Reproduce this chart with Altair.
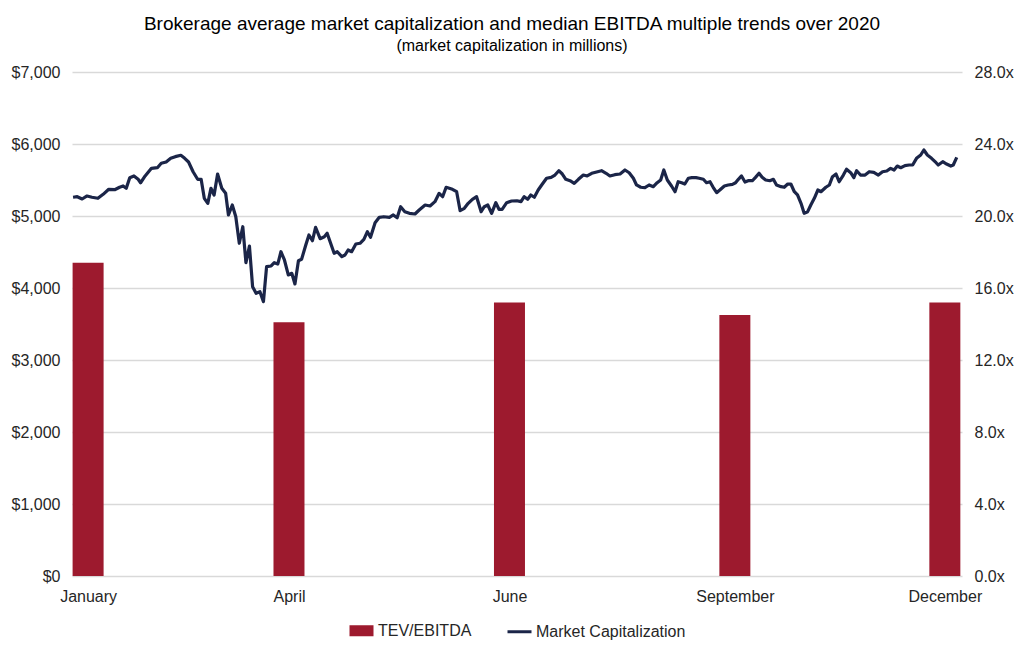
import altair as alt
import pandas as pd

# ---------------- data ----------------
# Market capitalization (millions USD), by trading-day index through 2020
line_day = [0.3, 1.5, 2.9, 4.3, 5.7, 7.4, 8.9, 10.5, 12.2, 13.6, 14.6, 15.5, 16.5, 17.7, 18.9, 19.6, 20.9,
            22.7, 24.4, 25.5, 26.9, 28.2, 29.5, 31.1, 32.2, 33.3, 34.6,
            35.9, 36.9, 37.8, 38.8, 39.7, 40.6, 41.6, 42.8, 43.9, 44.7, 45.8, 46.8, 47.8, 48.8, 49.7, 50.7,
            51.6, 52.6, 53.7, 54.7, 55.6, 56.9, 57.8, 58.8, 59.7, 60.7, 61.8, 62.8, 63.7, 64.7, 65.6, 66.8,
            67.7, 68.7, 69.6, 70.9, 72.1,
            72.9, 73.9, 74.9, 75.8, 77.1, 78.0, 78.9, 79.9, 81.1, 82.3, 83.4, 84.4, 85.3, 86.6, 87.8, 89.1,
            90.7, 91.8, 92.9, 93.9, 95.1, 96.4, 98.0, 99.2, 100.9, 102.3, 103.7, 104.9, 105.9, 106.9, 107.8,
            108.7, 109.9, 110.9, 112.1, 113.2, 114.4, 115.6, 116.9, 117.8, 118.8, 119.9, 121.1, 122.0, 122.9,
            124.2, 125.6, 127.1, 128.3, 129.2, 130.2, 131.1, 132.1, 133.2, 134.4, 135.6, 136.9, 138.0, 139.1,
            140.1, 141.1, 142.3, 143.5,
            144.7, 146.1, 147.2, 148.5, 149.9, 151.3, 152.6, 153.7, 155.1, 156.6, 158.0, 159.2, 160.4, 161.3,
            162.5, 163.7, 164.9, 166.1, 167.2, 168.2, 169.1, 170.1, 171.3, 172.3, 173.2, 174.2, 175.1, 176.1,
            177.1, 178.3, 179.2,
            180.4, 181.3, 182.3, 183.2, 184.2, 185.1, 186.4, 187.5, 188.7, 189.6, 190.4, 191.3, 192.3, 193.2,
            194.4, 195.3, 196.3, 197.2, 198.2, 199.4, 200.4, 201.3, 202.6, 203.5, 204.5, 205.4, 206.4, 207.3,
            208.3, 209.2, 210.2, 211.1, 212.1, 213.1, 214.0,
            215.4, 216.4, 217.3, 218.3, 219.2, 220.4, 221.3, 222.5, 223.4, 224.2, 225.3, 226.6, 227.8, 229.1,
            230.4, 231.6, 232.8, 233.9, 234.9, 235.8, 236.8, 238.0, 239.2, 240.2, 241.3, 242.5, 243.4, 244.4,
            245.6, 246.9, 247.5, 248.8, 249.9, 251.1, 251.8, 252.8]
line_value = [5260, 5268, 5236, 5278, 5260, 5246, 5301, 5371, 5365, 5399, 5417, 5385, 5532, 5556, 5510, 5462, 5556,
              5662, 5671, 5732, 5750, 5801, 5824, 5843, 5801, 5750, 5615,
              5510, 5510, 5246, 5176, 5385, 5292, 5583, 5385, 5315, 5014, 5153, 4990, 4621, 4851, 4351, 4583,
              4018, 3926, 3949, 3810, 4296, 4306, 4351, 4333, 4504, 4389, 4181, 4204, 4056, 4379, 4399, 4597,
              4736, 4657, 4843, 4685, 4712,
              4760, 4621, 4482, 4504, 4435, 4458, 4528, 4504, 4611, 4621, 4676, 4782, 4704, 4907, 4982, 4990,
              4982, 5014, 4976, 5129, 5060, 5037, 5028, 5083, 5153, 5139, 5199, 5315, 5268, 5399, 5385,
              5371, 5337, 5074, 5107, 5176, 5232, 5268, 5060, 5129, 5153, 5037, 5185, 5093, 5093,
              5185, 5208, 5212, 5199, 5268, 5232, 5292, 5260, 5361, 5444, 5524, 5537, 5569, 5629,
              5583, 5510, 5490, 5454,
              5510, 5569, 5556, 5593, 5611, 5629, 5593, 5556, 5574, 5583, 5639, 5601, 5524, 5431,
              5399, 5393, 5431, 5407, 5462, 5500, 5639, 5500, 5417, 5337, 5476, 5462, 5444, 5524,
              5532, 5532, 5524,
              5510, 5462, 5476, 5399, 5324, 5361, 5417, 5431, 5440, 5462, 5510, 5556, 5472, 5490,
              5490, 5537, 5593, 5537, 5500, 5490, 5510, 5431, 5407, 5399, 5444, 5444, 5337, 5292,
              5176, 5037, 5060, 5153, 5246, 5361, 5337,
              5399, 5431, 5546, 5583, 5476, 5569, 5649, 5601, 5532, 5629, 5569, 5569, 5615, 5607,
              5569, 5615, 5625, 5662, 5639, 5694, 5671, 5699, 5708, 5708, 5801, 5847, 5917, 5847,
              5801, 5740, 5708, 5754, 5722, 5694, 5708, 5815]

# TEV/EBITDA median multiple at quarter points
bar_month = ["January", "April", "June", "September", "December"]
bar_day = [4.6, 62.0, 125.0, 189.4, 249.4]
bar_multiple = [17.4, 14.1, 15.2, 14.5, 15.2]

series_names = ["TEV/EBITDA", "Market Capitalization"]
left_ticks = [0, 1000, 2000, 3000, 4000, 5000, 6000, 7000]
right_ticks = [0, 4, 8, 12, 16, 20, 24, 28]
x_domain = [0, 254.3]

RED = "#9D1A2E"
NAVY = "#1B2548"
FONT = "Liberation Sans"
TXT = "#262626"

line_df = pd.DataFrame({"day": line_day, "cap": line_value})
bar_df = pd.DataFrame({"day": bar_day, "month": bar_month, "mult": bar_multiple})
leg_df = pd.DataFrame({"series": series_names})

label_expr = " : ".join(
    f"abs(datum.value - {d}) < 0.01 ? '{m}'" for d, m in zip(bar_day, bar_month)
) + " : ''"

x_axis = alt.Axis(values=bar_day, labelExpr=label_expr, grid=False, domain=False, ticks=False,
                  labelPadding=12, labelFontSize=16, labelColor=TXT, labelFont=FONT, title=None,
                  labelFlush=False)
x_scale = alt.Scale(domain=x_domain, nice=False, zero=False, padding=0)

bars = alt.Chart(bar_df).mark_bar(size=31, color=RED).encode(
    x=alt.X("day:Q", scale=x_scale, axis=x_axis),
    y=alt.Y("mult:Q", scale=alt.Scale(domain=[0, 28], nice=False, padding=0),
            axis=alt.Axis(orient="right", values=right_ticks, grid=False, domain=False, ticks=False,
                          labelExpr="format(datum.value, '.1f') + 'x'", labelPadding=12,
                          labelFontSize=16, labelColor=TXT, labelFont=FONT, title=None)),
)

line = alt.Chart(line_df).mark_line(color=NAVY, strokeWidth=3.2, strokeJoin="round").encode(
    x=alt.X("day:Q", scale=x_scale, axis=x_axis),
    y=alt.Y("cap:Q", scale=alt.Scale(domain=[0, 7000], nice=False, padding=0),
            axis=alt.Axis(orient="left", values=left_ticks, format="$,.0f", grid=True,
                          gridColor="#d9d9d9", gridWidth=1.3, domain=False, ticks=False,
                          labelPadding=12, labelFontSize=16, labelColor=TXT, labelFont=FONT,
                          title=None)),
)

legend = alt.Legend(title=None, orient="none", direction="horizontal", legendX=278, legendY=547,
                    symbolSize=400, symbolStrokeWidth=3, labelFontSize=16, labelFont=FONT,
                    labelColor=TXT, labelOffset=5, columnPadding=29, symbolOpacity=1, padding=0)
shape_range = ["M-1.05,-0.4H1.05V0.4H-1.05Z", "M-1.2,0H1.2"]

legend_pts = alt.Chart(leg_df).mark_point(filled=True, opacity=0).encode(
    fill=alt.Fill("series:N", scale=alt.Scale(domain=series_names, range=[RED, NAVY]), legend=legend),
    stroke=alt.Stroke("series:N", scale=alt.Scale(domain=series_names, range=[RED, NAVY]), legend=legend),
    shape=alt.Shape("series:N", scale=alt.Scale(domain=series_names, range=shape_range), legend=legend),
)

chart = alt.layer(bars, line, legend_pts).resolve_scale(y="independent").properties(
    width=890,
    height=504,
    autosize=alt.AutoSizeParams(type="none"),
    padding={"left": 64, "top": 64, "right": 54, "bottom": 67},
    title=alt.TitleParams(
        text="Brokerage average market capitalization and median EBITDA multiple trends over 2020",
        subtitle="(market capitalization in millions)",
        anchor="middle", font=FONT, subtitleFont=FONT, fontSize=19, subtitleFontSize=16,
        fontWeight="normal", color="#000000", subtitleColor="#000000", subtitlePadding=4,
        offset=10, dx=-5,
    ),
).configure_view(stroke=None)

chart.save("out.html", embed_options={"renderer": "svg", "actions": False})
